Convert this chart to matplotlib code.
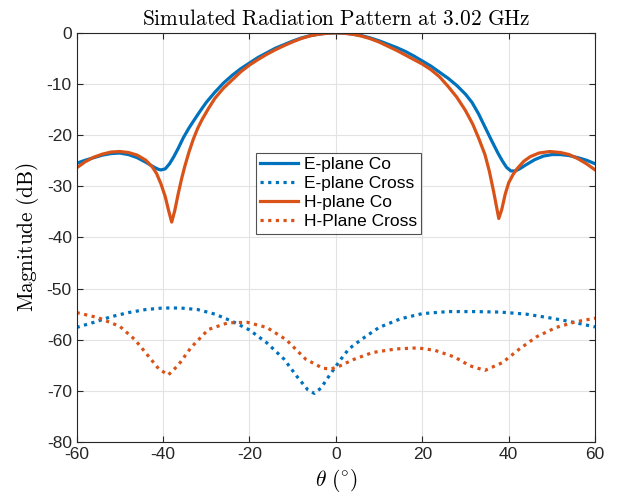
import matplotlib
matplotlib.use('Agg')
import matplotlib.pyplot as plt

plt.rcParams['mathtext.fontset'] = 'cm'
plt.rcParams['font.family'] = ['Liberation Sans', 'DejaVu Sans']
plt.rcParams['axes.unicode_minus'] = False

# E-plane co-pol
thetaEco = [-60, -58, -56, -54, -52, -50, -48, -46, -44, -42, -41, -40.5, -39.5, -38.5, -37.5,
            -36.5, -35.3, -34, -33, -31.5, -30, -28, -26, -24, -22, -20, -18, -16, -14, -12,
            -10, -8, -6, -4, -2, 0, 2, 4, 6, 8, 10, 12, 14, 16, 18, 20, 22, 24, 26, 28, 30,
            31.5, 33, 34.5, 36, 37.5, 38.5, 39.5, 40.5, 41.5, 42.5, 44, 46, 48, 50, 52, 54,
            56, 58, 60]
magEco = [-25.5, -24.9, -24.4, -23.9, -23.6, -23.5, -23.8, -24.4, -25.3, -26.3, -26.7, -26.8,
          -26.6, -25.6, -24.2, -22.6, -20.5, -18.6, -17.3, -15.4, -13.6, -11.6, -9.8, -8.3,
          -7.0, -5.9, -4.8, -3.9, -3.0, -2.3, -1.6, -1.0, -0.55, -0.25, -0.06, 0, -0.06,
          -0.25, -0.55, -1.0, -1.55, -2.2, -2.85, -3.6, -4.5, -5.5, -6.5, -7.7, -8.9, -10.3,
          -12, -13.6, -15.8, -18.4, -21, -23.5, -25, -26.3, -27, -27, -26.6, -25.8, -24.8,
          -24.1, -23.8, -23.8, -24, -24.4, -24.9, -25.6]

# E-plane cross-pol
thetaEx = [-60, -56, -52, -48, -44, -40, -36, -32, -28, -24, -20, -16, -12, -9, -6.5, -5,
           -3.5, -1.5, 1, 3, 6, 10, 15, 20, 26, 32, 38, 44, 50, 55, 60]
magEx = [-57.6, -56.6, -55.5, -54.7, -54.1, -53.8, -53.8, -54.1, -55.0, -56.4, -58.1, -60.6,
         -63.8, -67.2, -69.8, -70.5, -69.5, -67, -64, -61.8, -59.9, -57.6, -55.9, -54.9,
         -54.5, -54.5, -54.6, -55.0, -55.8, -56.6, -57.5]

# H-plane co-pol
thetaHco = [-60, -58, -56, -54, -52, -50, -48, -46, -44, -42.5, -41.5, -40.5, -39.5, -38.7,
            -38, -37.3, -36.5, -35.7, -35, -34, -33, -32, -31, -29.5, -28, -26, -24, -22,
            -20, -18, -16, -14, -12, -10, -8, -6, -4, -2, 0, 2, 4, 6, 8, 10, 12, 14, 16, 18,
            20, 22, 24, 26, 28, 30, 31.7, 33, 34.5, 35.5, 36.5, 37.7, 38.4, 39.2, 40, 41, 42,
            43.5, 45, 47, 49.5, 52, 54, 56, 58, 60]
magHco = [-26.4, -25.2, -24.3, -23.7, -23.3, -23.2, -23.4, -23.9, -24.9, -26.2, -27.5, -29.5,
          -32, -34.8, -37, -34.8, -31.5, -28.5, -26.2, -23.3, -20.8, -18.7, -17, -14.8,
          -12.8, -10.8, -9.2, -7.6, -6.3, -5.2, -4.2, -3.3, -2.5, -1.75, -1.1, -0.6, -0.27,
          -0.07, 0, -0.07, -0.3, -0.65, -1.15, -1.8, -2.6, -3.4, -4.3, -5.2, -6.1, -7.2,
          -8.6, -10.5, -12.6, -15.2, -17.9, -20.5, -23.8, -27, -31, -36.3, -34.5, -31.5,
          -29.3, -27.7, -26.5, -25.1, -24.2, -23.5, -23.2, -23.4, -23.8, -24.6, -25.6, -26.8]

# H-plane cross-pol
thetaHx = [-60, -55, -50, -46.5, -43.5, -41, -38.8, -36.5, -33.5, -29.5, -25, -20.5, -16,
           -11.5, -7, -3, -1, 1, 4, 8.5, 14, 19, 23, 27.5, 31, 34.5, 38.5, 42.5, 46.5, 51,
           55.5, 60]
magHx = [-54.7, -55.7, -57.4, -60, -63.1, -65.7, -66.9, -65, -61.5, -58, -56.7, -56.6, -57.6,
         -60, -63.8, -65.6, -65.7, -65.1, -63.9, -62.5, -61.8, -61.6, -62.1, -63.4, -65.1,
         -66, -64.5, -61.8, -59.4, -57.6, -56.5, -55.8]

blue = '#0072BD'
orange = '#D95319'
dots = (0, (1, 1.4))

fig = plt.figure(figsize=(6.18, 4.98), dpi=100)
ax = fig.add_axes([0.124, 0.1125, 0.839, 0.8215])

ax.plot(thetaEco, magEco, color=blue, lw=2.3, label='E-plane Co')
ax.plot(thetaEx, magEx, color=blue, lw=2.3, ls=dots, label='E-plane Cross')
ax.plot(thetaHco, magHco, color=orange, lw=2.3, label='H-plane Co')
ax.plot(thetaHx, magHx, color=orange, lw=2.3, ls=dots, label='H-Plane Cross')

ax.set_xlim(-60, 60)
ax.set_ylim(-80, 0)
ax.set_xticks(range(-60, 61, 20))
ax.set_yticks(range(-80, 1, 10))
ax.grid(True, color='#e3e3e3', lw=0.8)
ax.set_axisbelow(True)
ax.tick_params(direction='in', top=True, right=True, labelsize=12.5, colors='#262626',
               length=4, width=0.8)
for s in ax.spines.values():
    s.set_color('#262626')
    s.set_linewidth(0.8)

ax.set_title(r'$\mathrm{Simulated\ Radiation\ Pattern\ at\ 3.02\ GHz}$', fontsize=15.4, pad=6)
ax.set_xlabel(r'$\theta\ (^{\circ})$', fontsize=15.4, labelpad=4)
ax.set_ylabel(r'$\mathrm{Magnitude\ (dB)}$', fontsize=15.4, labelpad=4)

leg = ax.legend(loc='upper left', bbox_to_anchor=(0.3456, 0.7066), borderaxespad=0,
                fontsize=12.5, frameon=True, fancybox=False, handlelength=2.2,
                handletextpad=0.3, labelspacing=0.22, borderpad=0.25)
leg.get_frame().set_edgecolor('#262626')
leg.get_frame().set_linewidth(0.8)

fig.savefig('out.png', dpi=100)
